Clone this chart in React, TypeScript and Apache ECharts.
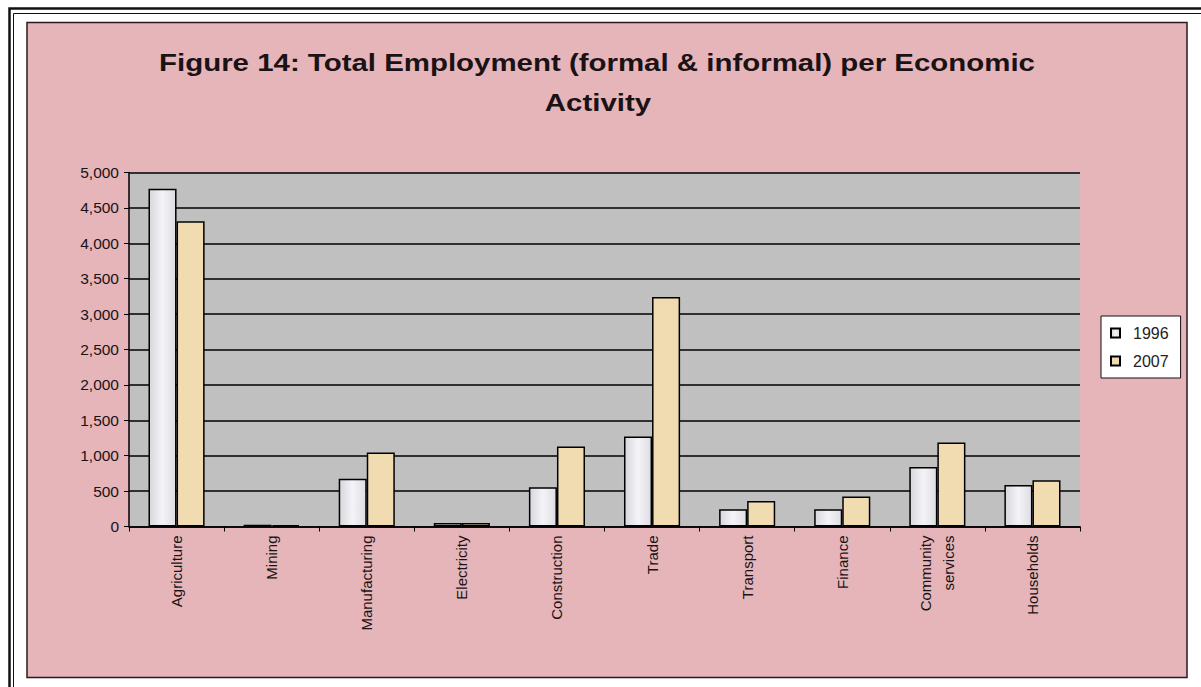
import React, { useEffect, useRef } from "react";
import * as echarts from "echarts";

const categories = [
  "Agriculture",
  "Mining",
  "Manufacturing",
  "Electricity",
  "Construction",
  "Trade",
  "Transport",
  "Finance",
  "Community\nservices",
  "Households",
];
const values1996 = [4770, 25, 675, 50, 555, 1270, 245, 245, 840, 585];
const values2007 = [4310, 20, 1045, 50, 1130, 3240, 360, 425, 1185, 655];
const seriesNames = ["1996", "2007"];
const titleLine1 = "Figure 14: Total Employment (formal & informal) per Economic";
const titleLine2 = "Activity";

export default function App() {
  const ref = useRef<HTMLDivElement>(null);
  useEffect(() => {
    if (!ref.current) return;
    const chart = echarts.init(ref.current, null, { renderer: "svg" });
    const font = "'Liberation Sans', Arial, sans-serif";
    const titleStyle = {
      fontFamily: font,
      fontSize: 23,
      fontWeight: "bold",
      fill: "#1a1214",
      textAlign: "center",
      textVerticalAlign: "middle",
    };
    chart.setOption({
      animation: false,
      backgroundColor: "#ffffff",
      textStyle: { fontFamily: font },
      graphic: [
        {
          type: "rect",
          shape: { x: 9.5, y: 8.5, width: 1220, height: 720 },
          style: { fill: "none", stroke: "#111", lineWidth: 2.5 },
          z: -10,
        },
        {
          type: "rect",
          shape: { x: 13.5, y: 13.5, width: 1210, height: 710 },
          style: { fill: "none", stroke: "#111", lineWidth: 1 },
          z: -10,
        },
        {
          type: "rect",
          shape: { x: 27, y: 22.5, width: 1160, height: 655 },
          style: { fill: "#e5b5ba", stroke: "#2a1a1c", lineWidth: 1.5 },
          z: -9,
        },
        {
          type: "text",
          x: 597,
          y: 63,
          scaleX: 1.28,
          style: { ...titleStyle, text: titleLine1 },
          z: 10,
        },
        {
          type: "text",
          x: 598,
          y: 103,
          scaleX: 1.28,
          style: { ...titleStyle, text: titleLine2 },
          z: 10,
        },
      ],
      legend: {
        orient: "vertical",
        left: 1101,
        top: 316,
        data: seriesNames,
        backgroundColor: "#ffffff",
        borderColor: "#111",
        borderWidth: 1,
        borderRadius: 0,
        padding: [9, 12, 9, 9],
        itemGap: 12,
        itemWidth: 9,
        itemHeight: 9,
        icon: "rect",
        textStyle: {
          fontFamily: font,
          fontSize: 16,
          color: "#222",
          padding: [0, 0, 0, 8],
        },
      },
      grid: {
        left: 129,
        right: 121,
        top: 172.5,
        bottom: 160.5,
        show: true,
        backgroundColor: "#c0c0c0",
        borderWidth: 0,
      },
      xAxis: {
        type: "category",
        data: categories,
        axisLine: { lineStyle: { color: "#000", width: 1.5 } },
        axisTick: { show: true, length: 5, lineStyle: { color: "#000" } },
        axisLabel: {
          rotate: 90,
          interval: 0,
          margin: 9,
          fontFamily: font,
          fontSize: 15,
          color: "#1a1214",
          lineHeight: 23,
        },
      },
      yAxis: {
        type: "value",
        min: 0,
        max: 5000,
        interval: 500,
        axisLine: { show: true, lineStyle: { color: "#000", width: 1.5 } },
        axisTick: { show: true, length: 5, lineStyle: { color: "#000" } },
        splitLine: { show: true, lineStyle: { color: "#000", width: 1.5 } },
        axisLabel: {
          margin: 10,
          fontFamily: font,
          fontSize: 15.5,
          color: "#1a1214",
          formatter: (v: number) => v.toLocaleString("en-US"),
        },
      },
      series: [
        {
          name: seriesNames[0],
          type: "bar",
          data: values1996,
          barGap: "0%",
          barCategoryGap: "41%",
          itemStyle: {
            color: new echarts.graphic.LinearGradient(0, 0, 1, 0, [
              { offset: 0, color: "#d6d6dc" },
              { offset: 0.5, color: "#f4f4f8" },
              { offset: 1, color: "#dcdce2" },
            ]),
            borderColor: "#000",
            borderWidth: 1.5,
          },
        },
        {
          name: seriesNames[1],
          type: "bar",
          data: values2007,
          itemStyle: {
            color: "#f1dcb2",
            borderColor: "#000",
            borderWidth: 1.5,
          },
        },
      ],
    });
    return () => chart.dispose();
  }, []);
  return (
    <div
      ref={ref}
      style={{ position: "fixed", left: 0, top: 0, width: 1201, height: 687 }}
    />
  );
}
